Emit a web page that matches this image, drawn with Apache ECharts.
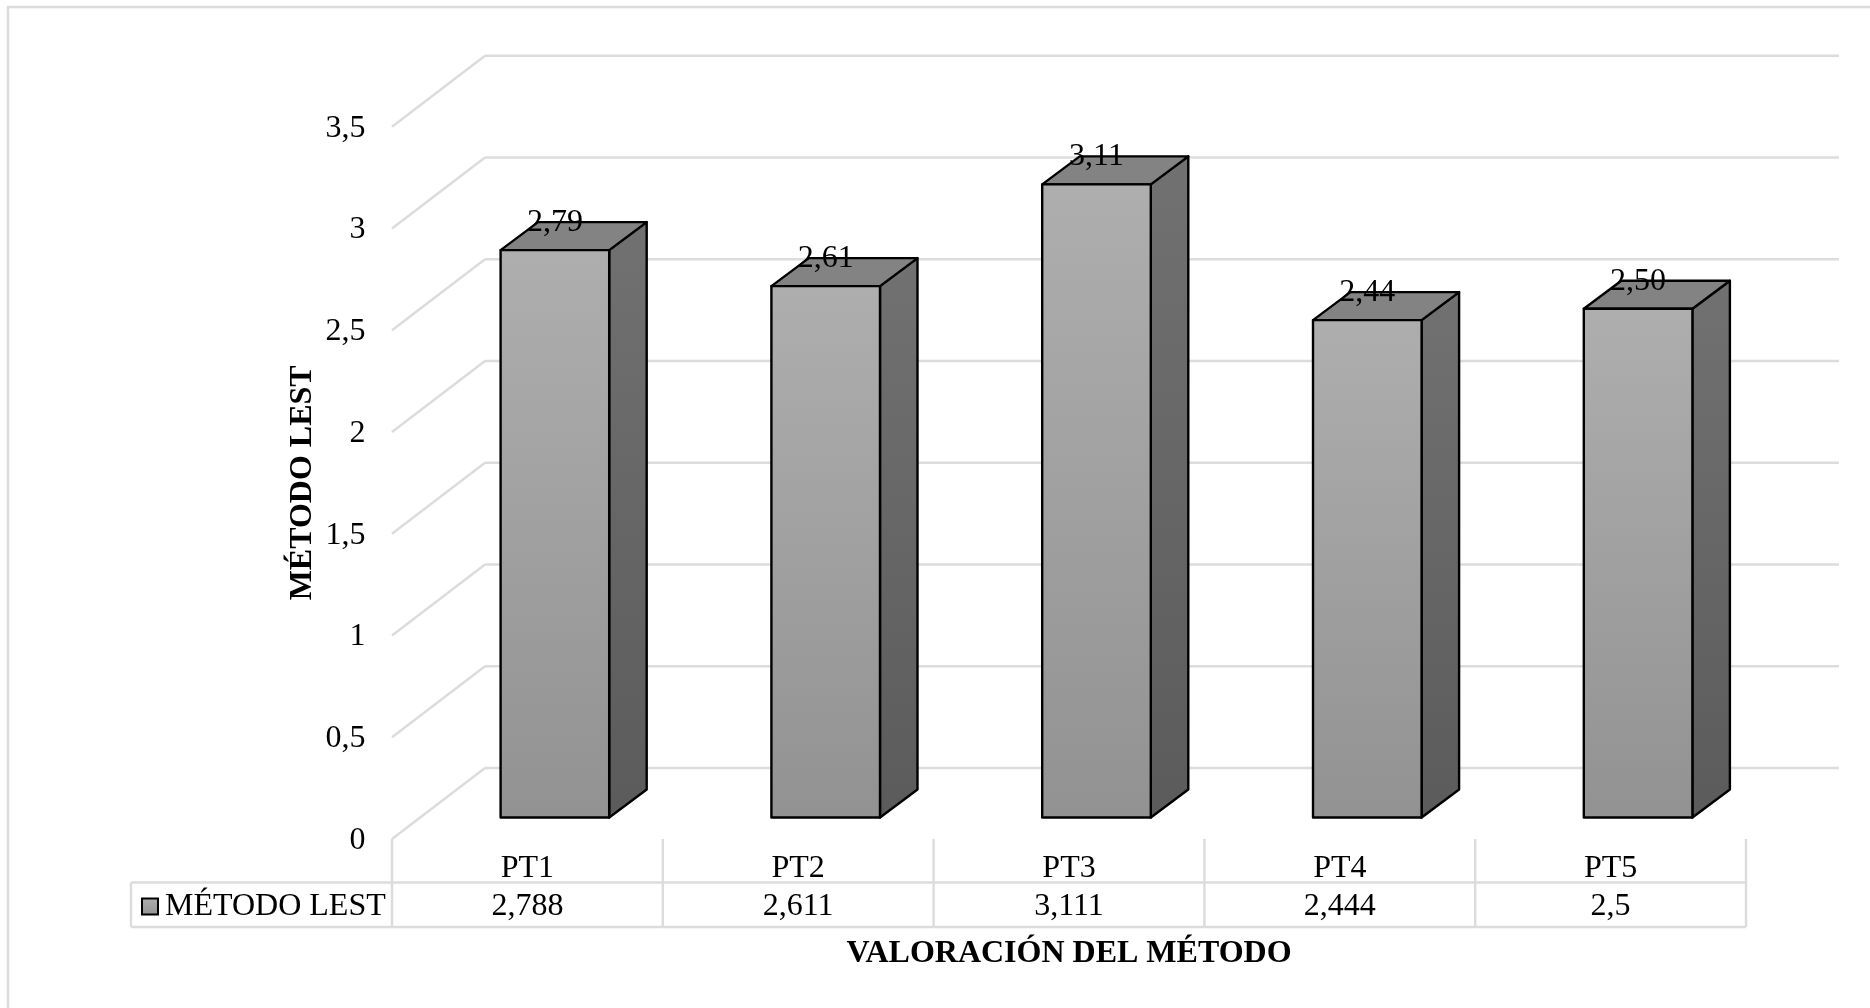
<!DOCTYPE html>
<html lang="es">
<head>
<meta charset="utf-8">
<title>Método LEST</title>
<script src="https://cdn.jsdelivr.net/npm/echarts@6/dist/echarts.min.js"></script>
<style>
  html, body { margin: 0; padding: 0; background: #ffffff; }
  #chart { width: 1870px; height: 1008px; }
</style>
</head>
<body>
<div id="chart"></div>
<script>
// Datos del gráfico
const categories = ['PT1', 'PT2', 'PT3', 'PT4', 'PT5'];
const lestValues = [2.788, 2.611, 3.111, 2.444, 2.5];
const yTicks = [0, 0.5, 1, 1.5, 2, 2.5, 3, 3.5];
const seriesName = 'MÉTODO LEST';
const xTitle = 'VALORACIÓN DEL MÉTODO';

// Geometría de la caja en perspectiva, en píxeles respecto al plano frontal
const FONT = '"Liberation Serif", "Times New Roman", serif';
const FONT_SIZE = 32;
const FLOOR_DX = 93;
const FLOOR_DY = -71;
const BAR_DX = 27.5;
const BAR_DY = -21.5;
const DEPTH_DX = 37.5;
const DEPTH_DY = -28;
const BAR_WIDTH_RATIO = 0.401;
const GRID_LINE = { stroke: '#dcdcdc', lineWidth: 2.4 };
const TABLE_HEADER_BOTTOM = 43.5;
const TABLE_BOTTOM = 88;
const TABLE_LEFT = 131;
const TABLE_VALUE_Y = 67.5;
const LABEL_SHIFT = 0.5;

const comma = v => String(v).replace('.', ',');
const vGrad = (top, bottom) => new echarts.graphic.LinearGradient(0, 0, 0, 1, [
  { offset: 0, color: top }, { offset: 1, color: bottom }
]);
const line = (x1, y1, x2, y2, style) => ({
  type: 'line', shape: { x1, y1, x2, y2 }, style: Object.assign({}, style)
});

// Paredes: rejilla lateral y de fondo
function renderWalls(params, api) {
  const p = api.coord([0, api.value(1)]);
  const band = api.size([1, 0])[0];
  const left = p[0] - band / 2;
  const right = left + band * categories.length;
  const bx = left + FLOOR_DX, by = p[1] + FLOOR_DY;
  return { type: 'group', children: [
    line(left, p[1], bx, by, GRID_LINE),
    line(bx, by, right + FLOOR_DX, by, GRID_LINE)
  ] };
}

// Columnas 3D con su etiqueta de valor
function renderBars(params, api) {
  const v = api.value(1);
  const base = api.coord([api.value(0), 0]);
  const top = api.coord([api.value(0), v]);
  const w = api.size([1, 0])[0] * BAR_WIDTH_RATIO;
  const cx = base[0] + BAR_DX;
  const x0 = cx - w / 2, x1 = cx + w / 2;
  const yb = base[1] + BAR_DY, yt = top[1] + BAR_DY;
  const edge = { stroke: '#000000', lineWidth: 2.4, lineJoin: 'round' };
  return { type: 'group', children: [
    { type: 'polygon',
      shape: { points: [[x1, yt], [x1 + DEPTH_DX, yt + DEPTH_DY], [x1 + DEPTH_DX, yb + DEPTH_DY], [x1, yb]] },
      style: Object.assign({ fill: vGrad('#717171', '#5b5b5b') }, edge) },
    { type: 'polygon',
      shape: { points: [[x0, yt], [x0 + DEPTH_DX, yt + DEPTH_DY], [x1 + DEPTH_DX, yt + DEPTH_DY], [x1, yt]] },
      style: Object.assign({ fill: '#838383' }, edge) },
    { type: 'rect',
      shape: { x: x0, y: yt, width: w, height: yb - yt },
      style: Object.assign({ fill: vGrad('#aeaeae', '#929292') }, edge) },
    { type: 'text',
      style: { x: cx, y: yt + DEPTH_DY + LABEL_SHIFT, text: v.toFixed(2).replace('.', ','),
               font: FONT_SIZE + 'px ' + FONT, fill: '#000000', align: 'center', verticalAlign: 'middle' } }
  ] };
}

// Tabla de datos bajo el eje de categorías
function renderTable(params, api) {
  const i = api.value(0);
  const p = api.coord([i, 0]);
  const band = api.size([1, 0])[0];
  const right = p[0] + band / 2;
  const left = p[0] - band / 2;
  const children = [
    line(right, p[1], right, p[1] + TABLE_BOTTOM, GRID_LINE),
    line(left, p[1] + TABLE_HEADER_BOTTOM, right, p[1] + TABLE_HEADER_BOTTOM, GRID_LINE),
    line(left, p[1] + TABLE_BOTTOM, right, p[1] + TABLE_BOTTOM, GRID_LINE),
    { type: 'text',
      style: { x: p[0], y: p[1] + TABLE_VALUE_Y, text: comma(api.value(1)),
               font: FONT_SIZE + 'px ' + FONT, fill: '#000000', align: 'center', verticalAlign: 'middle' } }
  ];
  if (i === 0) {
    children.push(
      line(left, p[1], left, p[1] + TABLE_BOTTOM, GRID_LINE),
      line(TABLE_LEFT, p[1] + TABLE_HEADER_BOTTOM, left, p[1] + TABLE_HEADER_BOTTOM, GRID_LINE),
      line(TABLE_LEFT, p[1] + TABLE_BOTTOM, left, p[1] + TABLE_BOTTOM, GRID_LINE),
      line(TABLE_LEFT, p[1] + TABLE_HEADER_BOTTOM, TABLE_LEFT, p[1] + TABLE_BOTTOM, GRID_LINE)
    );
  }
  return { type: 'group', children };
}

const chart = echarts.init(document.getElementById('chart'), null, { renderer: 'canvas' });
const barKeyFill = vGrad('#aeaeae', '#929292');

chart.setOption({
  animation: false,
  backgroundColor: '#ffffff',
  textStyle: { fontFamily: FONT, color: '#000000' },
  grid: { left: 392, right: 124, top: 126.7, bottom: 169, containLabel: false },
  // Marco exterior del área del gráfico
  graphic: [{
    type: 'polyline', silent: true,
    shape: { points: [[8, 1008], [8, 7], [1870, 7]] },
    style: { stroke: '#dcdcdc', lineWidth: 2.4, fill: 'none' }
  }],
  legend: {
    show: true, left: 141, top: 890.5, padding: 0,
    itemWidth: 16, itemHeight: 16,
    selectedMode: false,
    data: [{ name: seriesName, icon: 'rect',
             itemStyle: { color: barKeyFill, borderColor: '#000000', borderWidth: 2 } }],
    textStyle: { fontFamily: FONT, fontSize: FONT_SIZE, color: '#000000', lineHeight: 32, padding: [0, 0, 0, 2] }
  },
  xAxis: {
    type: 'category', data: categories,
    axisLine: { show: false }, axisTick: { show: false }, splitLine: { show: false },
    axisLabel: { fontFamily: FONT, fontSize: FONT_SIZE, color: '#000000', margin: 13.5 },
    name: xTitle, nameLocation: 'middle', nameGap: 99,
    nameTextStyle: { fontFamily: FONT, fontSize: FONT_SIZE, fontWeight: 'bold', color: '#000000' }
  },
  yAxis: {
    type: 'value', min: 0, max: 3.5, interval: 0.5,
    axisLine: { show: false }, axisTick: { show: false }, splitLine: { show: false },
    axisLabel: {
      margin: 26.5,
      formatter: v => '{t|' + comma(v) + '}',
      rich: { t: { fontFamily: FONT, fontSize: FONT_SIZE, color: '#000000', padding: [3, 0, 0, 0] } }
    },
    name: seriesName, nameLocation: 'middle', nameGap: 73, nameRotate: 90, nameMoveOverlap: false,
    nameTextStyle: { fontFamily: FONT, fontSize: FONT_SIZE, fontWeight: 'bold', color: '#000000' }
  },
  series: [
    { type: 'custom', name: 'rejilla', z: 1, silent: true, renderItem: renderWalls,
      data: yTicks.map(t => [0, t]), encode: { x: 0, y: 1 } },
    { type: 'custom', name: 'tabla', z: 1, silent: true, renderItem: renderTable,
      data: lestValues.map((v, i) => [i, v]), encode: { x: 0, y: 1 } },
    { type: 'custom', name: seriesName, z: 3, renderItem: renderBars,
      itemStyle: { color: '#a0a0a0' },
      data: lestValues.map((v, i) => [i, v]), encode: { x: 0, y: 1 } }
  ]
});
</script>
</body>
</html>
